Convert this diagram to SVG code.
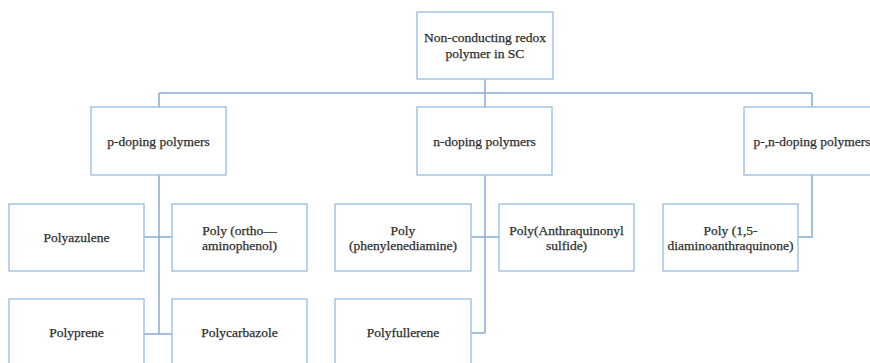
<svg xmlns="http://www.w3.org/2000/svg" width="870" height="363" viewBox="0 0 870 363">
<style>
.box{fill:#ffffff;stroke:#9dbfe4;stroke-width:1.4}
.t{font-family:"Liberation Serif","Times New Roman",serif;font-size:13.5px;fill:#2e2e2e;stroke:#2e2e2e;stroke-width:0.25;text-anchor:middle}
.ln{fill:none;stroke:#88abd6;stroke-width:1.5}
</style>
<rect width="870" height="363" fill="#ffffff"/>
<g id="connectors">
<path class="ln" d="M485,79 V107 M159,93 H812 M159,93 V107 M812,93 V107"/>
<path class="ln" d="M159,175 V334 M144,237 H172 M144,334 H172"/>
<path class="ln" d="M485,175 V333 M471,237 H499 M471,333 H485"/>
<path class="ln" d="M812,175 V237 H798"/>
</g>
<g id="root">
<rect class="box" x="417" y="12" width="136" height="67"/>
<text class="t" x="485" y="42">Non-conducting  redox</text>
<text class="t" x="485" y="58">polymer  in SC</text>
</g>
<g id="p-doping">
<rect class="box" x="91" y="107" width="135" height="68"/>
<text class="t" x="158.5" y="146">p-doping polymers</text>
</g>
<g id="n-doping">
<rect class="box" x="417" y="107" width="135" height="68"/>
<text class="t" x="484.5" y="146">n-doping polymers</text>
</g>
<g id="pn-doping">
<rect class="box" x="744" y="107" width="136" height="68"/>
<text class="t" x="812" y="146">p-,n-doping polymers</text>
</g>
<g id="polyazulene">
<rect class="box" x="9" y="204" width="135" height="67"/>
<text class="t" x="76.5" y="242">Polyazulene</text>
</g>
<g id="poly-ortho">
<rect class="box" x="172" y="204" width="135" height="67"/>
<text class="t" x="239.5" y="235">Poly (ortho—</text>
<text class="t" x="239.5" y="250">aminophenol)</text>
</g>
<g id="polyprene">
<rect class="box" x="9" y="299" width="135" height="67"/>
<text class="t" x="76.5" y="337">Polyprene</text>
</g>
<g id="polycarbazole">
<rect class="box" x="172" y="299" width="135" height="67"/>
<text class="t" x="239.5" y="337">Polycarbazole</text>
</g>
<g id="poly-phenylenediamine">
<rect class="box" x="335" y="204" width="136" height="67"/>
<text class="t" x="403" y="235">Poly</text>
<text class="t" x="403" y="250">(phenylenediamine)</text>
</g>
<g id="poly-anthraquinonyl">
<rect class="box" x="499" y="204" width="135" height="67"/>
<text class="t" x="566.5" y="235">Poly(Anthraquinonyl</text>
<text class="t" x="566.5" y="250">sulfide)</text>
</g>
<g id="polyfullerene">
<rect class="box" x="335" y="299" width="136" height="67"/>
<text class="t" x="403" y="337">Polyfullerene</text>
</g>
<g id="poly-diaminoanthraquinone">
<rect class="box" x="663" y="204" width="135" height="67"/>
<text class="t" x="730.5" y="235">Poly (1,5-</text>
<text class="t" x="730.5" y="250">diaminoanthraquinone)</text>
</g>
</svg>
